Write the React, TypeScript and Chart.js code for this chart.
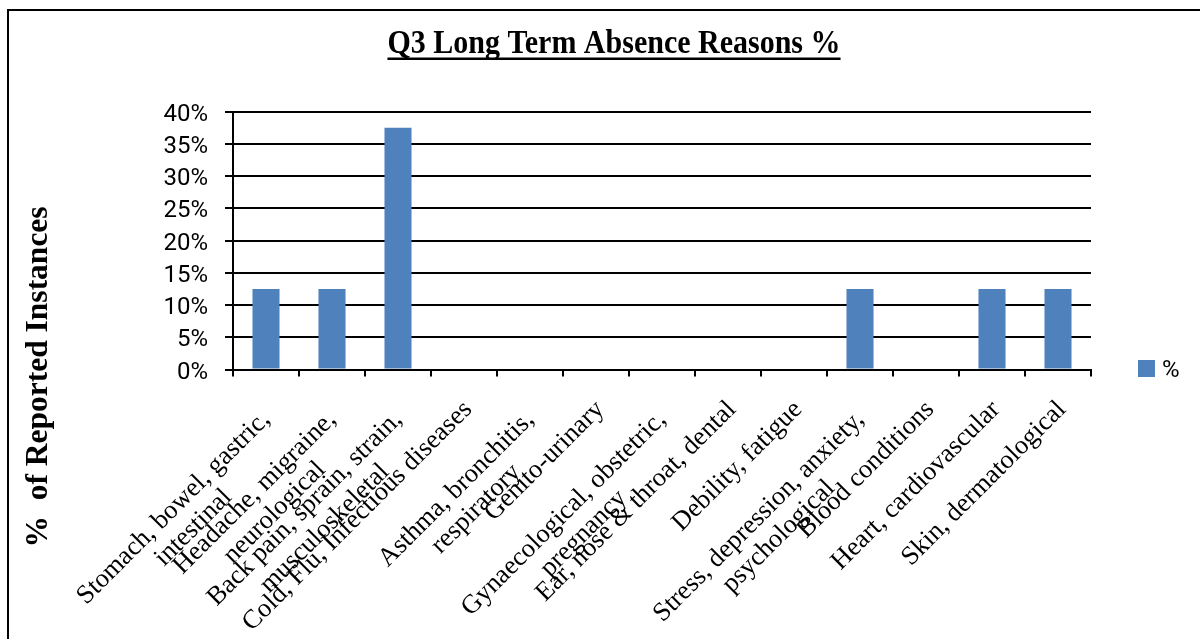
import React, { useEffect, useRef } from 'react';
import { Chart, registerables } from 'chart.js';

Chart.register(...registerables);

const chartTitle = 'Q3 Long Term Absence Reasons %';
const yAxisTitle = '%  of Reported Instances';
const seriesName = '%';

const categories: string[][] = [
  ['Stomach, bowel, gastric,', 'intestinal'],
  ['Headache, migraine,', 'neurological'],
  ['Back pain, sprain, strain,', 'musculoskeletal'],
  ['Cold, Flu, Infectious diseases'],
  ['Asthma, bronchitis,', 'respiratory'],
  ['Genito-urinary'],
  ['Gynaecological, obstetric,', 'pregnancy'],
  ['Ear, nose & throat, dental'],
  ['Debility, fatigue'],
  ['Stress, depression, anxiety,', 'psychological'],
  ['Blood conditions'],
  ['Heart, cardiovascular'],
  ['Skin, dermatological'],
];

const values: number[] = [12.5, 12.5, 37.5, 0, 0, 0, 0, 0, 0, 12.5, 0, 12.5, 12.5];

const yTickLabels: string[] = ['0%', '5%', '10%', '15%', '20%', '25%', '30%', '35%', '40%'];

const barColor = '#4F81BD';

const W = 1200;
const H = 639;

const textPlugin = {
  id: 'excelText',
  afterDraw(chart: any) {
    const ctx: CanvasRenderingContext2D = chart.ctx;
    const xs = chart.scales.x;
    const area = chart.chartArea;
    ctx.save();
    ctx.fillStyle = '#000';

    // rotated category labels
    ctx.font = '26.5px "Liberation Serif"';
    const LH = 28;
    categories.forEach((lines, i) => {
      const c = xs.getPixelForValue(i);
      const n = lines.length;
      const ax = c + (n > 1 ? 5 : 9);
      const ay = area.bottom + (n > 1 ? 51 : 41);
      const bw = Math.max(...lines.map((l) => ctx.measureText(l).width));
      ctx.save();
      ctx.translate(ax, ay);
      ctx.rotate(-Math.PI / 4);
      ctx.textAlign = 'center';
      ctx.textBaseline = 'alphabetic';
      lines.forEach((l, j) => ctx.fillText(l, -bw / 2, j * LH));
      ctx.restore();
    });

    // title with underline
    ctx.font = 'bold 30px "Liberation Serif"';
    ctx.textAlign = 'center';
    ctx.textBaseline = 'alphabetic';
    const tx = 614;
    ctx.save();
    ctx.translate(tx, 53);
    ctx.scale(1, 1.09);
    ctx.fillText(chartTitle, 0, 0);
    ctx.restore();
    const tw = ctx.measureText(chartTitle).width;
    ctx.fillRect(tx - tw / 2, 57.5, tw, 2.5);

    // y axis title
    ctx.save();
    ctx.translate(47, 377);
    ctx.rotate(-Math.PI / 2);
    ctx.font = 'bold 31.5px "Liberation Serif"';
    ctx.textAlign = 'center';
    ctx.fillText(yAxisTitle, 0, 0);
    ctx.restore();

    // legend
    const ds = chart.data.datasets[0];
    ctx.fillStyle = ds.backgroundColor;
    ctx.fillRect(area.right + 47, 360, 17, 17);
    ctx.fillStyle = '#000';
    ctx.font = '24px Roboto';
    ctx.textAlign = 'left';
    ctx.fillText(ds.label, area.right + 71, 377);

    ctx.restore();
  },
};

export default function App() {
  const ref = useRef<HTMLCanvasElement | null>(null);

  useEffect(() => {
    if (!ref.current) return;
    const chart = new Chart(ref.current, {
      type: 'bar',
      data: {
        labels: categories,
        datasets: [
          {
            label: seriesName,
            data: values,
            backgroundColor: barColor,
            borderWidth: 0,
            categoryPercentage: 1,
            barPercentage: 0.41,
          },
        ],
      },
      options: {
        responsive: false,
        animation: false,
        devicePixelRatio: 1,
        layout: { padding: { left: 0, top: 111.5, right: 109, bottom: 0 } },
        plugins: {
          legend: { display: false },
          title: { display: false },
          tooltip: { enabled: false },
        },
        scales: {
          x: {
            type: 'category',
            offset: true,
            grid: {
              display: true,
              drawOnChartArea: false,
              drawTicks: true,
              tickLength: 7,
              color: '#000',
              lineWidth: 2,
              offset: true,
            },
            border: { display: true, color: '#000', width: 2 },
            ticks: { display: false },
            afterFit: (s: any) => {
              s.height = H - 369.5;
            },
          },
          y: {
            min: 0,
            max: 40,
            ticks: {
              stepSize: 5,
              padding: 17,
              labelOffset: 3,
              color: '#000',
              font: { family: 'Roboto', size: 24 },
              callback: (_v: any, i: number) => yTickLabels[i],
            },
            grid: { color: '#000', lineWidth: 2, tickLength: 8, drawTicks: true },
            border: { display: true, color: '#000', width: 2 },
            afterFit: (s: any) => {
              s.width = 233;
            },
          },
        },
      } as any,
      plugins: [textPlugin],
    });
    return () => chart.destroy();
  }, []);

  return (
    <div style={{ position: 'fixed', left: 0, top: 0, width: W, height: H, overflow: 'hidden', background: '#fff' }}>
      <canvas ref={ref} width={W} height={H} style={{ position: 'absolute', left: 0, top: 0 }} />
      <div
        style={{
          position: 'absolute',
          left: 7,
          top: 9,
          width: 1300,
          height: 800,
          borderLeft: '2px solid #000',
          borderTop: '2px solid #000',
          pointerEvents: 'none',
        }}
      />
    </div>
  );
}
